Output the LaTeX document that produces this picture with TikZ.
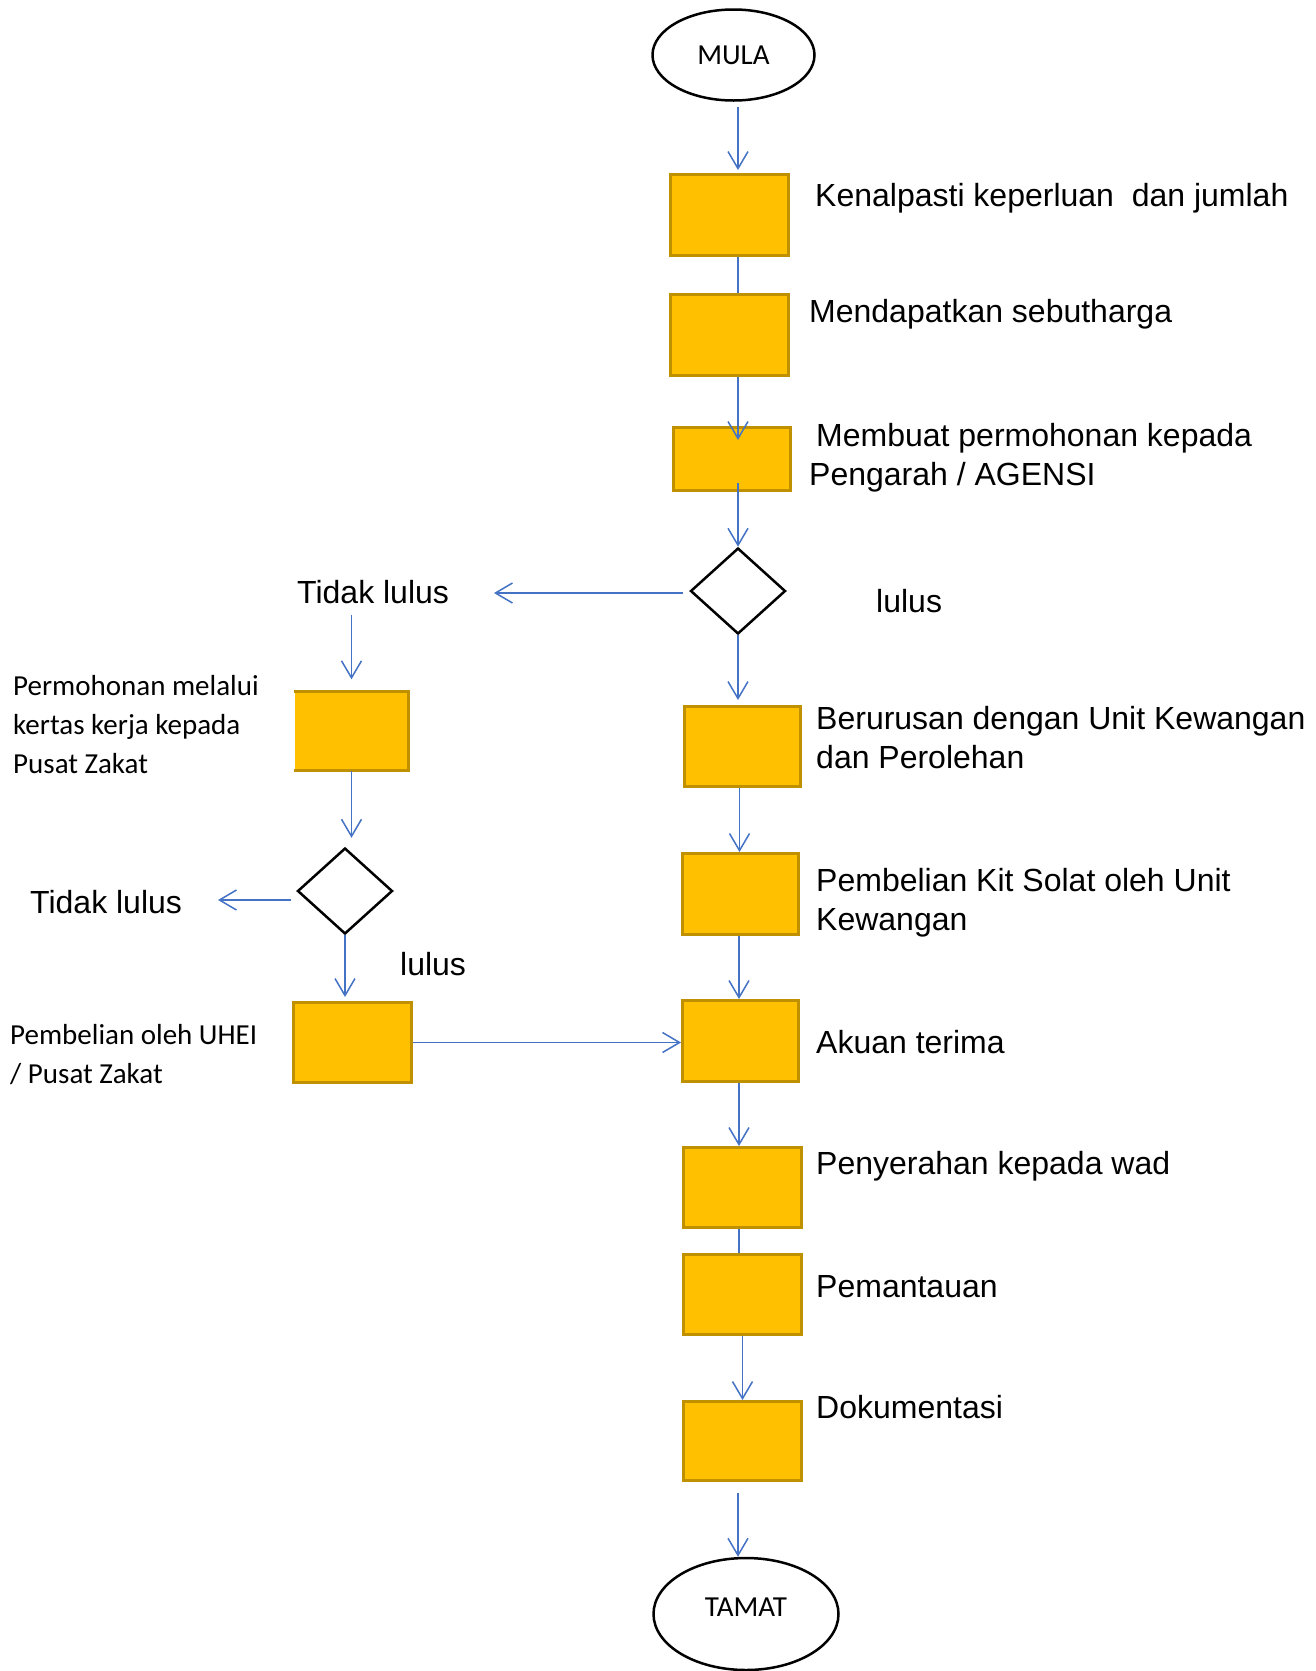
\documentclass[tikz,border=0pt]{standalone}
\usepackage{fontspec}
\setmainfont{Liberation Sans}
\newfontfamily\califont{Carlito}
\usetikzlibrary{shapes.geometric,arrows.meta}
\definecolor{boxgold}{HTML}{FFC000}
\definecolor{boxedge}{HTML}{BF9000}
\definecolor{connblue}{HTML}{4472C4}
\tikzset{
  procbox/.style={rectangle, fill=boxgold, draw=boxedge, line width=3pt, minimum width=118pt, minimum height=81pt, inner sep=0pt},
  procfill/.style={rectangle, fill=boxgold, inner sep=0pt},
  boxborder/.style={draw=boxedge, line width=3pt},
  decision/.style={diamond, draw=black, line width=2.5pt, minimum width=95pt, minimum height=86pt, inner sep=0pt},
  terminal/.style={ellipse, draw=black, line width=2.5pt, inner sep=0pt, font=\califont\fontsize{29}{35}\selectfont},
  conn/.style={draw=connblue, line width=1.5pt},
  arr/.style={conn, -{Straight Barb[length=17pt,width=20pt]}},
  lbl/.style={anchor=base west, inner sep=0pt, font=\fontsize{32}{39}\selectfont, align=left},
  note/.style={anchor=base west, inner sep=0pt, font=\califont\fontsize{29}{39}\selectfont, align=left},
}
\begin{document}
\begin{tikzpicture}[x=1pt,y=-1pt]
\useasboundingbox (0,0) rectangle (1315,1671);
\fill[white] (0,0) rectangle (1315,1671);

% terminals
\node[terminal, minimum width=162pt, minimum height=91pt] (mula) at (733.5,55) {MULA};
\node[terminal, minimum width=185pt, minimum height=112pt, text depth=14pt] (tamat) at (746,1614) {TAMAT};

% main column boxes
\node[procbox] (box1) at (729.5,215) {};
\node[procbox] (box2) at (729.5,335) {};
\node[procbox, minimum width=117pt, minimum height=63pt] (box3) at (732,459) {};
\node[decision] (dia1) at (738,591) {};
\node[procbox, minimum width=116pt, minimum height=80pt] (box4) at (742.5,746.5) {};
\node[procbox, minimum width=116pt] (box5) at (740.5,894) {};
\node[procbox, minimum width=116pt] (box6) at (740.5,1041) {};
\node[procbox, minimum height=80pt] (box7) at (742.5,1187.5) {};
\node[procbox, minimum height=80pt] (box8) at (742.5,1294.5) {};
\node[procbox, minimum height=79pt] (box9) at (742.5,1441) {};

% left branch
\node[procfill, minimum width=114pt, minimum height=79pt] (boxL1) at (351.5,731) {};
\draw[boxborder] (boxL1.south west) -- (boxL1.south east) -- (boxL1.north east) -- (boxL1.north west);
\node[decision] (dia2) at (345,891) {};
\node[procbox, minimum height=80pt] (boxL2) at (352.5,1042.5) {};

% labels (base anchor = baseline of the last line)
\node[lbl] (t1) at (815,206) {Kenalpasti keperluan\ \ dan jumlah};
\node[lbl] (t2) at (809,322) {Mendapatkan sebutharga};
\node[lbl] (t3) at (809,485) {\hspace*{7pt}Membuat permohonan kepada\\Pengarah / AGENSI};
\node[lbl] (lulus1) at (876,612) {lulus};
\node[lbl] (t4) at (816,768) {Berurusan dengan Unit Kewangan\\dan Perolehan};
\node[lbl] (t5) at (816,930) {Pembelian Kit Solat oleh Unit\\Kewangan};
\node[lbl] (t6) at (816,1053) {Akuan terima};
\node[lbl] (t7) at (816,1174) {Penyerahan kepada wad};
\node[lbl] (t8) at (816,1297) {Pemantauan};
\node[lbl] (t9) at (816,1418) {Dokumentasi};
\node[lbl] (tl1) at (297,603) {Tidak lulus};
\node[lbl] (tl2) at (30,913) {Tidak lulus};
\node[lbl] (lulus2) at (400,975) {lulus};
\node[note] (nL1) at (13,773) {Permohonan melalui\\kertas kerja kepada\\Pusat Zakat};
\node[note] (nL2) at (10,1083) {Pembelian oleh UHEI\\/ Pusat Zakat};

% free ends
\coordinate (tip1) at (494,593);
\coordinate (tip2) at (218,900);

% main connectors
\draw[arr, shorten <=5pt, shorten >=3pt] ([xshift=4.5pt]mula.south) -- ([xshift=8.5pt]box1.north);
\draw[conn] ([xshift=8.5pt]box1.south) -- ([xshift=8.5pt]box2.north);
\draw[arr, shorten >=-14pt] ([xshift=8.5pt]box2.south) -- ([xshift=6pt]box3.north);
\draw[arr, shorten <=-9pt] ([xshift=6pt]box3.south) -- (dia1.north);
\draw[arr, shorten <=6pt] (dia1.west |- tip1) -- (tip1);
\draw[arr, shorten >=5pt] (dia1.south) -- (dia1.south |- box4.north);
\draw[arr] ([xshift=-3pt]box4.south) -- ([xshift=-1pt]box5.north);
\draw[arr] ([xshift=-1.5pt]box5.south) -- ([xshift=-1.5pt]box6.north);
\draw[arr] ([xshift=-1.5pt]box6.south) -- ([xshift=-3.5pt]box7.north);
\draw[conn] ([xshift=-3.5pt]box7.south) -- ([xshift=-3.5pt]box8.north);
\draw[arr] (box8.south) -- (box9.north);
\draw[arr, shorten <=11pt] ([xshift=-4.5pt]box9.south) -- ([xshift=-8pt]tamat.north);

% left connectors
\draw[arr, shorten <=11pt, shorten >=12pt] (tl1.south -| boxL1.north) -- (boxL1.north);
\draw[arr, shorten >=9pt] (boxL1.south) -- (boxL1.south |- dia2.north);
\draw[arr, shorten <=5pt] (dia2.west |- tip2) -- (tip2);
\draw[arr, shorten >=4pt] (dia2.south) -- (dia2.south |- boxL2.north);
\draw[arr] (boxL2.east) -- (boxL2.east -| box6.west);
\end{tikzpicture}
\end{document}
